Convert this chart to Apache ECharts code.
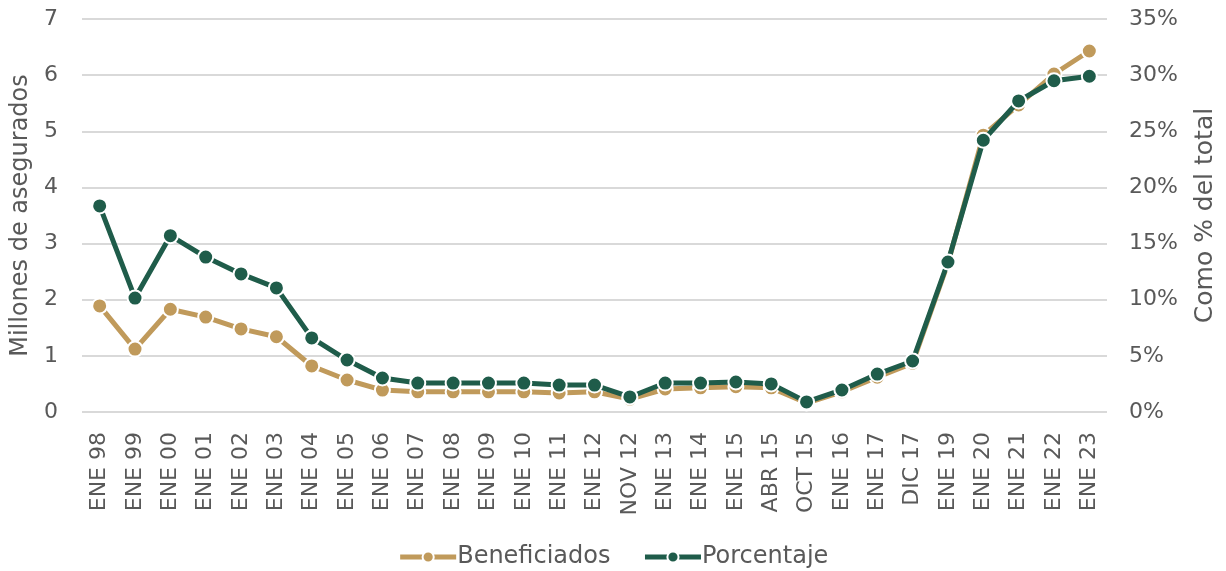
<!DOCTYPE html>
<html><head><meta charset="utf-8">
<script src="https://cdn.jsdelivr.net/npm/echarts@6/dist/echarts.min.js"></script>
<style>html,body{margin:0;padding:0;background:#fff}#c{width:1226px;height:571px}</style>
</head><body><div id="c"></div>
<script>
const categories = ["ENE 98","ENE 99","ENE 00","ENE 01","ENE 02","ENE 03","ENE 04","ENE 05","ENE 06","ENE 07","ENE 08","ENE 09","ENE 10","ENE 11","ENE 12","NOV 12","ENE 13","ENE 14","ENE 15","ABR 15","OCT 15","ENE 16","ENE 17","DIC 17","ENE 19","ENE 20","ENE 21","ENE 22","ENE 23"];
const beneficiados = [1.89,1.12,1.83,1.69,1.48,1.34,0.82,0.57,0.39,0.36,0.36,0.36,0.36,0.34,0.36,0.23,0.41,0.43,0.45,0.43,0.16,0.36,0.62,0.87,2.65,4.93,5.47,6.02,6.43];
const porcentaje = [18.35,10.15,15.7,13.8,12.3,11.05,6.6,4.63,3.03,2.58,2.58,2.58,2.58,2.4,2.4,1.34,2.58,2.58,2.67,2.5,0.9,1.96,3.38,4.54,13.36,24.2,27.7,29.5,29.9];
const leftTicks = {min:0,max:7,interval:1};
const rightTicks = {min:0,max:35,interval:5};

const FONT = "DejaVu Sans";
const TXT = "#595959";
const C1 = "#C09A5B", C2 = "#1F5C4A";
const chart = echarts.init(document.getElementById('c'), null, {renderer:'canvas'});
chart.setOption({
  animation:false,
  textStyle:{fontFamily:FONT,color:TXT},
  grid:{left:82,right:118,top:19,bottom:159},
  legend:{top:540,left:'center',itemWidth:56,itemHeight:14,itemGap:32,
    lineStyle:{width:5},
    textStyle:{fontFamily:FONT,fontSize:24,color:TXT,padding:[0,0,0,-4]},
    data:['Beneficiados','Porcentaje']},
  xAxis:{type:'category',data:categories,boundaryGap:true,
    axisLine:{show:false},axisTick:{show:false},
    axisLabel:{rotate:90,interval:0,fontFamily:FONT,fontSize:22,color:TXT,margin:20}},
  yAxis:[
    {type:'value',min:leftTicks.min,max:leftTicks.max,interval:leftTicks.interval,
     name:'Millones de asegurados',nameLocation:'middle',nameRotate:90,nameGap:33,
     nameTextStyle:{fontFamily:FONT,fontSize:24,color:TXT},
     axisLabel:{fontFamily:FONT,fontSize:22,color:TXT,margin:24},
     splitLine:{lineStyle:{color:'#d9d9d9',width:2}},axisLine:{show:false},axisTick:{show:false}},
    {type:'value',min:rightTicks.min,max:rightTicks.max,interval:rightTicks.interval,position:'right',
     name:'Como % del total',nameLocation:'middle',nameRotate:90,nameGap:86,
     nameTextStyle:{fontFamily:FONT,fontSize:25,color:TXT},
     axisLabel:{formatter:'{value}%',fontFamily:FONT,fontSize:22,color:TXT,margin:22},
     splitLine:{show:false},axisLine:{show:false},axisTick:{show:false}}
  ],
  series:[
    {name:'Beneficiados',type:'line',yAxisIndex:0,data:beneficiados,
     lineStyle:{color:C1,width:5},itemStyle:{color:C1,borderColor:'#fff',borderWidth:2},
     symbol:'circle',symbolSize:15,z:2},
    {name:'Porcentaje',type:'line',yAxisIndex:1,data:porcentaje,
     lineStyle:{color:C2,width:5},itemStyle:{color:C2,borderColor:'#fff',borderWidth:2},
     symbol:'circle',symbolSize:15,z:3}
  ]
});
</script></body></html>
